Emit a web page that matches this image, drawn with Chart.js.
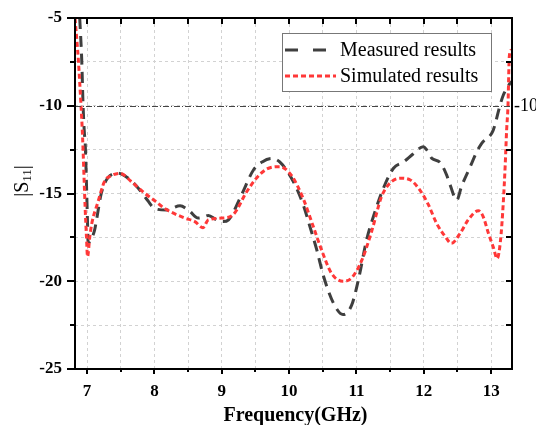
<!DOCTYPE html>
<html>
<head>
<meta charset="utf-8">
<script src="https://cdn.jsdelivr.net/npm/chart.js@4/dist/chart.umd.min.js"></script>
<style>
  html, body { margin: 0; padding: 0; background: #fff; }
  #wrap { width: 536px; height: 425px; position: relative; }
</style>
</head>
<body>
<div id="wrap"><canvas id="c" width="536" height="425"></canvas></div>
<script>
// ---- data ----
const measuredFreq = [6.89, 6.92, 6.94, 6.96, 6.97, 6.99, 7.005, 7.015, 7.06, 7.11, 7.14, 7.21, 7.31, 7.46, 7.6, 7.76, 7.9, 8.0, 8.18, 8.38, 8.52, 8.65, 8.72, 8.8, 8.92, 9.02, 9.1, 9.29, 9.47, 9.6, 9.74, 9.86, 10.06, 10.21, 10.31, 10.41, 10.51, 10.66, 10.8, 10.93, 11.03, 11.15, 11.27, 11.4, 11.55, 11.7, 11.84, 11.99, 12.06, 12.12, 12.24, 12.34, 12.39, 12.49, 12.56, 12.69, 12.79, 12.86, 13.03, 13.13, 13.18, 13.3];
const measuredS11 = [-5.0, -7.4, -10.0, -11.6, -12.0, -14.4, -16.5, -17.8, -17.6, -17.1, -16.5, -15.0, -14.1, -13.85, -14.1, -14.7, -15.4, -15.85, -15.94, -15.7, -16.0, -16.4, -16.35, -16.25, -16.5, -16.6, -16.5, -15.1, -13.66, -13.2, -13.0, -13.2, -14.3, -15.65, -16.9, -18.2, -19.7, -21.26, -21.9, -21.35, -19.9, -17.65, -16.1, -14.7, -13.56, -13.2, -12.75, -12.33, -12.6, -13.0, -13.22, -13.95, -14.5, -15.37, -14.6, -13.47, -12.6, -12.14, -11.4, -10.0, -9.4, -8.6];

const simulatedFreq = [6.82, 6.87, 6.91, 6.93, 6.97, 6.99, 7.006, 7.04, 7.07, 7.16, 7.26, 7.35, 7.49, 7.65, 7.86, 8.0, 8.15, 8.45, 8.6, 8.72, 8.8, 9.0, 9.17, 9.37, 9.52, 9.67, 9.86, 10.04, 10.21, 10.36, 10.48, 10.63, 10.8, 10.93, 11.08, 11.23, 11.37, 11.5, 11.65, 11.8, 11.94, 12.07, 12.19, 12.32, 12.41, 12.54, 12.66, 12.81, 12.88, 12.96, 13.03, 13.09, 13.14, 13.18, 13.21, 13.23, 13.25, 13.27, 13.3];
const simulatedS11 = [-5.0, -7.4, -10.05, -11.55, -15.75, -17.46, -18.6, -17.46, -16.7, -15.5, -14.3, -14.0, -13.85, -14.3, -15.0, -15.4, -15.85, -16.4, -16.6, -16.95, -16.5, -16.4, -16.2, -14.9, -14.1, -13.6, -13.47, -14.0, -15.3, -16.9, -18.2, -19.55, -20.0, -19.8, -18.8, -17.1, -15.2, -14.4, -14.13, -14.23, -14.8, -15.65, -16.7, -17.46, -17.84, -17.27, -16.5, -15.98, -16.3, -17.27, -18.03, -18.7, -17.65, -15.56, -13.3, -11.4, -10.05, -7.2, -6.8];

const xTickLabels = [7, 8, 9, 10, 11, 12, 13];
const yTickLabels = [-5, -10, -15, -20, -25];
const refLevel = -10;
const seriesNames = ['Measured results', 'Simulated results'];
const xTitle = 'Frequency(GHz)';

const SERIF = "'Liberation Serif', 'Times New Roman', serif";

function pts(xs, ys) { return xs.map((x, i) => ({ x: x, y: ys[i] })); }

const framePlugin = {
  id: 'framePlugin',
  afterDatasetsDraw(chart) {
    const { ctx, chartArea: a, scales: { x, y } } = chart;
    ctx.save();
    // reference line
    const yr = y.getPixelForValue(refLevel);
    ctx.strokeStyle = '#444';
    ctx.lineWidth = 1;
    ctx.setLineDash([6, 2, 1, 2]);
    ctx.beginPath(); ctx.moveTo(a.left, Math.round(yr) + 0.5); ctx.lineTo(a.right, Math.round(yr) + 0.5); ctx.stroke();
    ctx.setLineDash([]);

    // frame
    ctx.strokeStyle = '#000';
    ctx.lineWidth = 2;
    ctx.strokeRect(a.left, a.top, a.right - a.left, a.bottom - a.top);

    // ticks
    ctx.lineWidth = 2;
    const xmin = xTickLabels[0], xmax = xTickLabels[xTickLabels.length - 1];
    for (let v = xmin; v <= xmax + 1e-9; v += 0.5) {
      const px = Math.round(x.getPixelForValue(v));
      const major = Math.abs(v - Math.round(v)) < 1e-9;
      ctx.beginPath();
      ctx.moveTo(px, a.bottom); ctx.lineTo(px, a.bottom + (major ? 5 : 3));
      ctx.moveTo(px, a.top); ctx.lineTo(px, a.top + 6);
      ctx.stroke();
    }
    const ymax = yTickLabels[0], ymin = yTickLabels[yTickLabels.length - 1];
    for (let v = ymin; v <= ymax + 1e-9; v += 2.5) {
      const py = Math.round(y.getPixelForValue(v));
      const major = Math.abs(v / 5 - Math.round(v / 5)) < 1e-9;
      ctx.beginPath();
      ctx.moveTo(a.left, py); ctx.lineTo(a.left - (major ? 8 : 5), py);
      if (v !== refLevel) { ctx.moveTo(a.right, py); ctx.lineTo(a.right - 6, py); }
      ctx.stroke();
    }

    // right "-10" label
    ctx.fillStyle = '#000';
    ctx.font = '18px ' + SERIF;
    ctx.textAlign = 'left';
    ctx.textBaseline = 'middle';
    ctx.fillText(String(refLevel), a.right + 2, yr + 1);

    // x title
    ctx.font = 'bold 20px ' + SERIF;
    ctx.textAlign = 'center';
    ctx.textBaseline = 'middle';
    ctx.fillText(xTitle, (a.left + a.right) / 2 + 2, 416);

    // y title |S11| with subscript
    ctx.save();
    ctx.translate(21, 181);
    ctx.rotate(-Math.PI / 2);
    const big = '20px ' + SERIF, small = '13px ' + SERIF;
    ctx.font = big; const w1 = ctx.measureText('|S').width; const w3 = ctx.measureText('|').width;
    ctx.font = small; const w2 = ctx.measureText('11').width;
    let sx = -(w1 + w2 + w3) / 2;
    ctx.textAlign = 'left';
    ctx.textBaseline = 'alphabetic';
    ctx.font = big; ctx.fillText('|S', sx, 7); sx += w1;
    ctx.font = small; ctx.fillText('11', sx, 10); sx += w2;
    ctx.font = big; ctx.fillText('|', sx, 7);
    ctx.restore();

    // legend
    const lx = 282.5, ly = 33.5, lw = 209, lh = 58;
    ctx.fillStyle = '#fff';
    ctx.fillRect(lx, ly, lw, lh);
    ctx.strokeStyle = '#777';
    ctx.lineWidth = 1;
    ctx.strokeRect(lx, ly, lw, lh);
    const ds = chart.data.datasets;
    const rows = [50, 76];
    const sampleDash = [[13, 15], [5, 3]];
    ds.forEach((d, i) => {
      ctx.strokeStyle = d.borderColor;
      ctx.lineWidth = d.borderWidth;
      ctx.setLineDash(sampleDash[i]);
      ctx.beginPath(); ctx.moveTo(285, rows[i]); ctx.lineTo(336, rows[i]); ctx.stroke();
      ctx.setLineDash([]);
      ctx.fillStyle = '#000';
      ctx.font = '20px ' + SERIF;
      ctx.textAlign = 'left';
      ctx.textBaseline = 'middle';
      ctx.fillText(d.label, 340, rows[i] + 1);
    });
    ctx.restore();
  }
};

new Chart(document.getElementById('c'), {
  type: 'line',
  data: {
    datasets: [
      {
        label: seriesNames[0],
        data: pts(measuredFreq, measuredS11),
        borderColor: '#3f3f3f',
        borderWidth: 3,
        borderDash: [11, 7],
        pointRadius: 0,
        cubicInterpolationMode: 'monotone',
        fill: false,
        order: 2
      },
      {
        label: seriesNames[1],
        data: pts(simulatedFreq, simulatedS11),
        borderColor: '#ff3838',
        borderWidth: 3,
        borderDash: [5, 3],
        pointRadius: 0,
        cubicInterpolationMode: 'monotone',
        fill: false,
        order: 1
      }
    ]
  },
  options: {
    responsive: false,
    animation: false,
    devicePixelRatio: 1,
    layout: { padding: { top: 18, right: 24, left: 0, bottom: 0 } },
    plugins: { legend: { display: false }, tooltip: { enabled: false } },
    scales: {
      x: {
        type: 'linear',
        min: 6.82,
        max: 13.31,
        afterFit: s => { s.height = 56; s.paddingLeft = 0; s.paddingRight = 0; },
        ticks: {
          stepSize: 0.5,
          includeBounds: false,
          autoSkip: false,
          maxRotation: 0,
          padding: 12,
          color: '#000',
          font: { family: SERIF, size: 17, weight: 'bold' },
          callback: v => (xTickLabels.includes(v) ? String(v) : '')
        },
        grid: { color: '#d2d2d2', lineWidth: 1, drawTicks: false },
        border: { display: false, dash: [3, 3] }
      },
      y: {
        type: 'linear',
        min: -25,
        max: -5,
        afterFit: s => { s.width = 75; s.paddingTop = 0; s.paddingBottom = 0; },
        ticks: {
          stepSize: 2.5,
          autoSkip: false,
          padding: 13,
          color: '#000',
          font: { family: SERIF, size: 17, weight: 'bold' },
          callback: v => (yTickLabels.includes(v) ? String(v) : '')
        },
        grid: { color: '#d2d2d2', lineWidth: 1, drawTicks: false },
        border: { display: false, dash: [3, 3] }
      }
    }
  },
  plugins: [framePlugin]
});
</script>
</body>
</html>
